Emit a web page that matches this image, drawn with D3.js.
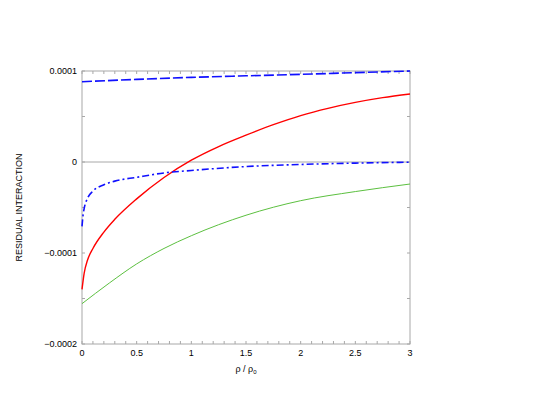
<!DOCTYPE html>
<html>
<head>
<meta charset="utf-8">
<script src="https://cdn.jsdelivr.net/npm/d3@7"></script>
<style>
  body { margin: 0; background: white; }
  text { font-family: "Liberation Sans", Arial, sans-serif; }
</style>
</head>
<body>
<div id="chart"></div>
<script>
// values, in units of 1e-4
const xUpper = [0, 0.5, 1, 1.5, 2, 2.5, 3];
const upperDashed = [0.882, 0.908, 0.93, 0.947, 0.963, 0.982, 1.0];

const xRed = [0, 0.02, 0.05, 0.1, 0.2, 0.3, 0.5, 0.75, 1, 1.25, 1.5, 1.75, 2, 2.25, 2.5, 2.75, 3];
const redSolid = [-1.40, -1.22, -1.08, -0.95, -0.77, -0.63, -0.405, -0.17, 0.02, 0.17, 0.295, 0.41, 0.51, 0.59, 0.655, 0.707, 0.747];

const xDashDot = [0, 0.01, 0.02, 0.05, 0.1, 0.2, 0.3, 0.5, 0.75, 1, 1.5, 2, 2.5, 3];
const blueDashDot = [-0.708, -0.58, -0.51, -0.40, -0.32, -0.25, -0.21, -0.168, -0.12, -0.093, -0.05, -0.027, -0.012, -0.002];

const xGreen = [0, 0.25, 0.5, 0.75, 1, 1.5, 2, 2.5, 3];
const greenDotted = [-1.557, -1.33, -1.12, -0.95, -0.81, -0.585, -0.425, -0.325, -0.242];

const xTicks = [0, 0.5, 1, 1.5, 2, 2.5, 3];
const yTicks = [1e-4, 0, -1e-4, -2e-4];
const yTickLabels = ["0.0001", "0", "\u22120.0001", "\u22120.0002"];

const width = 537, height = 415;
const margin = { left: 82, right: 127, top: 71, bottom: 71 };

const svg = d3.select("#chart")
  .append("svg")
  .attr("width", width)
  .attr("height", height);

const x = d3.scaleLinear().domain([0, 3]).range([margin.left, width - margin.right]);
const y = d3.scaleLinear().domain([-2e-4, 1e-4]).range([height - margin.bottom, margin.top]);

const grey = "#a8a8a8";

// zero line
svg.append("line")
  .attr("x1", x(0)).attr("x2", x(3))
  .attr("y1", y(0)).attr("y2", y(0))
  .attr("stroke", grey)
  .attr("stroke-width", 1);

// minor ticks on all four sides
const xMinor = d3.range(0, 3.001, 0.1);
const yMinor = d3.range(-2e-4, 1.0001e-4, 0.5e-4);

function addTicks(values, isX, pos, dir) {
  svg.append("g").selectAll("line")
    .data(values)
    .join("line")
    .attr("x1", d => isX ? x(d) : pos)
    .attr("x2", d => isX ? x(d) : pos + dir * 3)
    .attr("y1", d => isX ? pos : y(d))
    .attr("y2", d => isX ? pos + dir * 3 : y(d))
    .attr("stroke", grey)
    .attr("stroke-width", 1);
}
addTicks(xMinor, true, y(-2e-4), -1);
addTicks(xMinor, true, y(1e-4), 1);
addTicks(yMinor, false, x(0), 1);
addTicks(yMinor, false, x(3), -1);

// frame
svg.append("rect")
  .attr("x", x(0)).attr("y", y(1e-4))
  .attr("width", x(3) - x(0))
  .attr("height", y(-2e-4) - y(1e-4))
  .attr("fill", "none")
  .attr("stroke", grey)
  .attr("stroke-width", 1);

// tick labels
svg.append("g").selectAll("text")
  .data(xTicks)
  .join("text")
  .attr("x", d => x(d))
  .attr("y", y(-2e-4) + 12)
  .attr("text-anchor", "middle")
  .attr("font-size", 9)
  .text(d => d);

svg.append("g").selectAll("text")
  .data(yTicks)
  .join("text")
  .attr("x", x(0) - 5)
  .attr("y", d => y(d) + 3)
  .attr("text-anchor", "end")
  .attr("font-size", 9)
  .text((d, i) => yTickLabels[i]);

// axis titles
const xt = svg.append("text")
  .attr("x", (x(0) + x(3)) / 2)
  .attr("y", y(-2e-4) + 28)
  .attr("text-anchor", "middle")
  .attr("font-size", 9);
xt.append("tspan").text("\u03c1 / \u03c1");
xt.append("tspan").attr("font-size", 6).attr("dy", 2).text("0");

svg.append("text")
  .attr("transform", `translate(22,${(y(1e-4) + y(-2e-4)) / 2}) rotate(-90)`)
  .attr("text-anchor", "middle")
  .attr("font-size", 9)
  .text("RESIDUAL INTERACTION");

// curves
const line = d3.line()
  .x(d => x(d[0]))
  .y(d => y(d[1] * 1e-4))
  .curve(d3.curveMonotoneX);

const curves = [
  { xs: xGreen, ys: greenDotted, color: "#5cc040", width: 1, dash: null },
  { xs: xRed, ys: redSolid, color: "#ff0000", width: 1.4, dash: null },
  { xs: xDashDot, ys: blueDashDot, color: "#1010ff", width: 1.6, dash: "7,3,2,3" },
  { xs: xUpper, ys: upperDashed, color: "#1010ff", width: 1.6, dash: "10,3" }
];

curves.forEach(c => {
  svg.append("path")
    .datum(c.xs.map((v, i) => [v, c.ys[i]]))
    .attr("d", line)
    .attr("fill", "none")
    .attr("stroke", c.color)
    .attr("stroke-width", c.width)
    .attr("stroke-dasharray", c.dash);
});
</script>
</body>
</html>
